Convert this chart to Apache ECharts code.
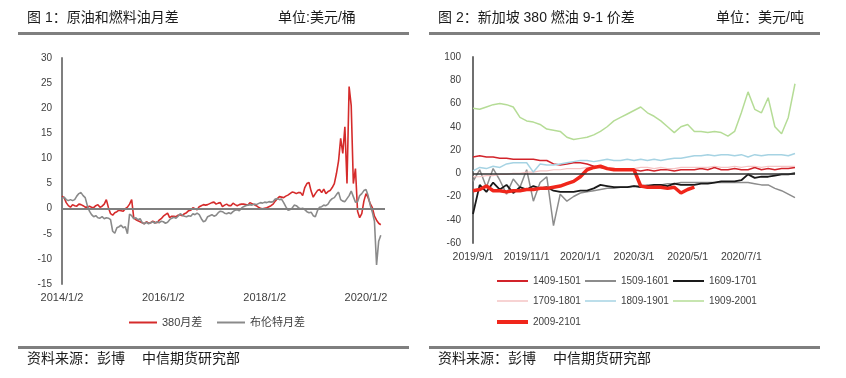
<!DOCTYPE html>
<html>
<head>
<meta charset="utf-8">
<script src="https://cdn.jsdelivr.net/npm/echarts/dist/echarts.min.js"></script>
<style>
  html, body { margin: 0; padding: 0; background: #fff; }
  #main { width: 846px; height: 378px; }
</style>
</head>
<body>
<div id="main"></div>
<script>
// ---- 图1 数据（半月频）----
const leftDates = [
  '2014/1/2','2014/1/16','2014/2/2','2014/2/16','2014/3/2','2014/3/16','2014/4/2','2014/4/16','2014/5/2','2014/5/16','2014/6/2','2014/6/16',
  '2014/7/2','2014/7/16','2014/8/2','2014/8/16','2014/9/2','2014/9/16','2014/10/2','2014/10/16','2014/11/2','2014/11/16','2014/12/2','2014/12/16',
  '2015/1/2','2015/1/16','2015/2/2','2015/2/16','2015/3/2','2015/3/16','2015/4/2','2015/4/16','2015/5/2','2015/5/16','2015/6/2','2015/6/16',
  '2015/7/2','2015/7/16','2015/8/2','2015/8/16','2015/9/2','2015/9/16','2015/10/2','2015/10/16','2015/11/2','2015/11/16','2015/12/2','2015/12/16',
  '2016/1/2','2016/1/16','2016/2/2','2016/2/16','2016/3/2','2016/3/16','2016/4/2','2016/4/16','2016/5/2','2016/5/16','2016/6/2','2016/6/16',
  '2016/7/2','2016/7/16','2016/8/2','2016/8/16','2016/9/2','2016/9/16','2016/10/2','2016/10/16','2016/11/2','2016/11/16','2016/12/2','2016/12/16',
  '2017/1/2','2017/1/16','2017/2/2','2017/2/16','2017/3/2','2017/3/16','2017/4/2','2017/4/16','2017/5/2','2017/5/16','2017/6/2','2017/6/16',
  '2017/7/2','2017/7/16','2017/8/2','2017/8/16','2017/9/2','2017/9/16','2017/10/2','2017/10/16','2017/11/2','2017/11/16','2017/12/2','2017/12/16',
  '2018/1/2','2018/1/16','2018/2/2','2018/2/16','2018/3/2','2018/3/16','2018/4/2','2018/4/16','2018/5/2','2018/5/16','2018/6/2','2018/6/16',
  '2018/7/2','2018/7/16','2018/8/2','2018/8/16','2018/9/2','2018/9/16','2018/10/2','2018/10/16','2018/11/2','2018/11/16','2018/12/2','2018/12/16',
  '2019/1/2','2019/1/16','2019/2/2','2019/2/16','2019/3/2','2019/3/16','2019/4/2','2019/4/16','2019/5/2','2019/5/16','2019/6/2','2019/6/16',
  '2019/7/2','2019/7/16','2019/8/2','2019/8/16','2019/9/2','2019/9/16','2019/10/2','2019/10/16','2019/11/2','2019/11/16','2019/12/2','2019/12/16',
  '2020/1/2','2020/1/16','2020/2/2','2020/2/16','2020/3/2','2020/3/16','2020/4/2','2020/4/16','2020/5/2','2020/5/16'
]
const fo380 = [
  2.5, 2.2, 1.2, 0.6, 0.3, 0.8, 0.6, 0.5, 0.9, 0.8, 0.6, 0.3,
  0.3, 0.5, 0.3, 0.2, 0.6, 0.8, 0.3, 0.5, 0.9, 1.8, 0.2, -1.0,
  -1.3, -0.8, -0.6, -0.3, -0.4, -0.5, 0.0, 0.3, 0.9, 1.8, -1.9, -2.2,
  -2.4, -2.6, -2.8, -3.0, -2.6, -2.9, -2.8, -2.5, -2.7, -2.8, -2.3, -2.0,
  -1.5, -1.2, -0.9, -1.8, -1.5, -1.5, -1.6, -1.3, -1.2, -1.4, -1.0, -0.8,
  -0.4, -0.3, 0.2, 0.0, -0.2, 0.4, 0.6, 0.8, 0.7, 0.8, 1.0, 1.2,
  1.3, 0.9, 1.1, 1.2, 0.4, 0.7, 0.9, 0.6, 0.6, 1.1, 0.8, 0.6,
  0.8, 0.9, 0.9, 0.8, 0.7, 1.2, 1.0, 0.8, 0.6, 0.3, 0.1, 0.0,
  0.1, 0.2, 0.4, 0.6, 0.9, 1.5, 2.0, 2.4, 2.3, 2.2, 2.5, 2.7,
  3.0, 3.3, 3.2, 3.0, 3.2, 3.2, 2.6, 4.2, 5.0, 5.2, 3.5, 2.3,
  3.0, 3.6, 3.8, 3.2, 3.9, 3.0, 3.4, 3.6, 4.2, 5.0, 7.0, 9.5,
  14.0, 11.0, 16.3, 5.0, 24.3, 20.5, 5.0, 8.0, -0.5, -1.8, -1.0, 1.5,
  3.0, 2.2, 1.0, 0.2, -1.5, -2.3, -2.9, -3.2
]
const brent = [
  2.0, 2.3, 1.8, 1.6, 1.8, 1.6, 1.8, 2.5, 3.0, 3.2, 2.6, 2.2,
  0.6, -0.5, -1.2, -1.6, -1.4, -1.8, -1.9, -1.6, -2.0, -1.8, -1.9, -2.2,
  -4.5, -4.9, -3.8, -3.6, -3.3, -3.8, -3.6, -5.0, -1.1, -1.4, -2.0, -1.8,
  -2.2, -2.0, -2.8, -3.0, -2.7, -3.0, -2.8, -2.6, -2.9, -2.6, -2.8, -2.5,
  -2.6, -2.9, -2.7, -2.2, -1.9, -1.7, -1.9, -1.5, -1.0, -1.3, -1.5, -1.6,
  -1.4, -1.5, -1.0, -1.2, -0.9, -1.2, -2.0, -2.6, -2.4, -1.6, -1.4, -1.2,
  -1.5, -1.3, -0.8, -0.5, -0.6, -0.9, -1.0, -0.8, -1.0, -0.6, -0.3, -0.2,
  -0.4, 0.1, 0.4, 0.6, 0.7, 0.8, 0.7, 0.9, 0.8, 1.0, 1.2, 1.1,
  1.3, 1.2, 1.4, 1.3, 1.4, 1.9, 2.0, 1.8, 1.9, 1.2, 0.4, -0.3,
  -0.2, 0.1, 0.7, 0.6, 0.2, 0.0, 0.1, -0.2, -0.6, -0.8, -0.7, -1.4,
  -1.6, -0.4, 0.3, 0.4, 0.7, 0.6, 0.9, 1.6, 2.0, 2.2, 2.8, 3.3,
  1.8, 1.5, 1.4, 2.0, 2.6, 3.5, 2.4, 1.3, 1.4, 2.6, 3.0, 3.6,
  3.8, 2.6, 0.7, -0.7, -2.5, -11.2, -6.5, -5.3
]

// ---- 图2 数据（周频）----
const rightDates = [
  '2019/9/1','2019/9/8','2019/9/16','2019/9/23','2019/10/1','2019/10/8','2019/10/16','2019/10/23',
  '2019/11/1','2019/11/8','2019/11/16','2019/11/23','2019/12/1','2019/12/8','2019/12/16','2019/12/23',
  '2020/1/1','2020/1/8','2020/1/16','2020/1/23','2020/2/1','2020/2/8','2020/2/16','2020/2/23',
  '2020/3/1','2020/3/8','2020/3/16','2020/3/23','2020/4/1','2020/4/8','2020/4/16','2020/4/23',
  '2020/5/1','2020/5/8','2020/5/16','2020/5/23','2020/6/1','2020/6/8','2020/6/16','2020/6/23',
  '2020/7/1','2020/7/8','2020/7/16','2020/7/23','2020/8/1','2020/8/8','2020/8/16','2020/8/23','2020/8/31'
]
const s1409 = [14, 15, 14, 14, 13, 13, 12, 12, 12, 12, 11, 11, 8, 7, 8, 9, 9, 8, 6, 5, 4, 4, 3, 3, 3,
  2, 3, 2, 3, 3, 2, 3, 3, 3, 4, 3, 5, 3, 3, 4, 3, 3, 5, 3, 4, 3, 4, 4, 5]
const s1509 = [-7, 3, -12, 4, -6, -18, -5, -12, 3, -24, -8, -3, -45, -18, -24, -20, -17, -16, -15, -14,
  -13, -13, -12, -12, -11, -11, -10, -10, -10, -9, -9, -8, -8, -8, -8, -8, -8, -8, -8, -8,
  -8, -8, -9, -10, -10, -13, -15, -18, -21]
const s1609 = [-35, -10, -16, -8, -14, -10, -17, -12, -14, -11, -13, -12, -15, -16, -16, -16, -15, -15, -13, -10,
  -11, -12, -12, -12, -11, -12, -11, -10, -10, -11, -9, -10, -10, -10, -9, -9, -8, -7, -7, -7,
  -6, -1, -4, -3, -3, -2, -1, -1, 0]
const s1709 = [-3, -3, -2, -2, -1, -1, 0, 0, 1, 1, 2, 2, 3, 3, 4, 4, 4, 5, 5, 5, 5, 4, 4, 4, 4,
  5, 5, 4, 5, 4, 4, 5, 5, 5, 5, 5, 6, 5, 5, 6, 5, 6, 6, 5, 6, 6, 6, 6, 6]
const s1809 = [2, 5, 4, 6, 5, 8, 9, 9, 9, 1, 8, 7, 7, 8, 9, 10, 11, 11, 10, 11, 12, 11, 11, 12, 11,
  12, 11, 12, 11, 12, 13, 13, 14, 15, 15, 16, 15, 16, 16, 15, 16, 14, 16, 15, 16, 16, 16, 15, 17]
const s1909 = [56, 55, 57, 59, 60, 59, 57, 48, 45, 44, 42, 38, 37, 36, 31, 29, 30, 31, 33, 36,
  40, 45, 48, 51, 54, 57, 52, 49, 45, 40, 35, 40, 42, 36, 36, 35, 36, 35, 32, 36,
  52, 70, 55, 52, 65, 40, 34, 48, 77]
const s2009 = [-15, -14, -11, -15, -15, -16, -15, -15, -14, -14, -13, -13, -12, -11, -9, -7, -3, 3, 5, 6,
  4, 3, 3, 3, 3, -11, -12, -12, -12, -13, -12, -17, -14, -12]

const FONT = "'Liberation Sans', 'Noto Sans CJK SC', sans-serif"
const LABEL = '#404040'

const chartInstance = echarts.init(document.getElementById('main'))

// 标题、分隔线、来源
function headerGraphics(x0, title, unit, unitX) {
  const txt = (x, y, text) => ({
    type: 'text', x: x, y: y,
    style: { text: text, fontSize: 14, fontFamily: FONT, fill: '#1a1a1a', verticalAlign: 'middle' }
  })
  return [
    txt(x0 + 9, 18, title),
    txt(unitX, 18, unit),
    { type: 'rect', shape: { x: x0, y: 32, width: 391, height: 3 }, style: { fill: '#7f7f7f' } },
    { type: 'rect', shape: { x: x0, y: 346, width: 391, height: 3 }, style: { fill: '#7f7f7f' } },
    txt(x0 + 9, 359, '资料来源：彭博'),
    txt(x0 + 124, 359, '中信期货研究部')
  ]
}

function line(name, data, color, width, xi) {
  return {
    name: name,
    type: 'line',
    xAxisIndex: xi,
    yAxisIndex: xi,
    data: data,
    symbol: 'none',
    lineStyle: { color: color, width: width },
    itemStyle: { color: color }
  }
}

const zeroLine = (color, width) => ({
  silent: true,
  symbol: 'none',
  label: { show: false },
  lineStyle: { color: color, width: width, type: 'solid' },
  data: [{ yAxis: 0 }]
})

// 图例：每项单独定位，用细矩形当线段
function legendItem(name, left, top, w, h, fontSize) {
  return {
    data: [name],
    left: left,
    top: top,
    padding: 0,
    icon: 'rect',
    itemWidth: w,
    itemHeight: h,
    textStyle: { fontSize: fontSize, color: LABEL, fontFamily: FONT }
  }
}

const series = [
  line('380月差', fo380, '#d52b2b', 1.6, 0),
  line('布伦特月差', brent, '#8a8a8a', 1.6, 0),
  line('1409-1501', s1409, '#d2232a', 1.5, 1),
  line('1509-1601', s1509, '#8c8c8c', 1.5, 1),
  line('1609-1701', s1609, '#1a1a1a', 1.8, 1),
  line('1709-1801', s1709, '#f5c4c4', 1.2, 1),
  line('1809-1901', s1809, '#a6d3e3', 1.5, 1),
  line('1909-2001', s1909, '#b5dc96', 1.5, 1),
  line('2009-2101', s2009, '#f0261b', 3.5, 1)
]
series[1].markLine = zeroLine('#7f7f7f', 2)
series[2].markLine = zeroLine('#333333', 1.5)

const option = {
  animation: false,
  textStyle: { fontFamily: FONT },
  grid: [
    { left: 62, top: 58, width: 323, height: 226 },
    { left: 473, top: 57, width: 322, height: 186 }
  ],
  xAxis: [
    {
      gridIndex: 0,
      type: 'category',
      data: leftDates,
      boundaryGap: false,
      axisLine: { show: false },
      axisTick: { show: false },
      axisLabel: { interval: (i) => i % 48 === 0, color: LABEL, fontSize: 11, margin: 8 }
    },
    {
      gridIndex: 1,
      type: 'category',
      data: rightDates,
      boundaryGap: false,
      axisLine: { show: false },
      axisTick: { show: false },
      axisLabel: { interval: (i) => i % 8 === 0 && i < 48, color: LABEL, fontSize: 10.5, margin: 9 }
    }
  ],
  yAxis: [
    {
      gridIndex: 0,
      type: 'value',
      min: -15,
      max: 30,
      interval: 5,
      axisLine: { show: true, lineStyle: { color: '#7f7f7f', width: 2 } },
      axisTick: { show: false },
      splitLine: { show: false },
      axisLabel: { color: LABEL, fontSize: 10, margin: 10 }
    },
    {
      gridIndex: 1,
      type: 'value',
      min: -60,
      max: 100,
      interval: 20,
      axisLine: { show: true, lineStyle: { color: '#6f6f6f', width: 2 } },
      axisTick: { show: false },
      splitLine: { show: false },
      axisLabel: { color: LABEL, fontSize: 10, margin: 12 }
    }
  ],
  legend: [
    legendItem('380月差', 129, 317, 28, 2, 11),
    legendItem('布伦特月差', 217, 317, 28, 2, 11),
    legendItem('1409-1501', 497, 276, 31, 2, 10),
    legendItem('1509-1601', 585, 276, 31, 2, 10),
    legendItem('1609-1701', 673, 276, 31, 2, 10),
    legendItem('1709-1801', 497, 296, 31, 1.5, 10),
    legendItem('1809-1901', 585, 296, 31, 1.5, 10),
    legendItem('1909-2001', 673, 296, 31, 1.5, 10),
    legendItem('2009-2101', 497, 317, 31, 4, 10)
  ],
  series: series,
  graphic: [
    ...headerGraphics(18, '图 1：原油和燃料油月差', '单位:美元/桶', 278),
    ...headerGraphics(429, '图 2：新加坡 380 燃油 9-1 价差', '单位：美元/吨', 716)
  ]
}

chartInstance.setOption(option)
</script>
</body>
</html>
